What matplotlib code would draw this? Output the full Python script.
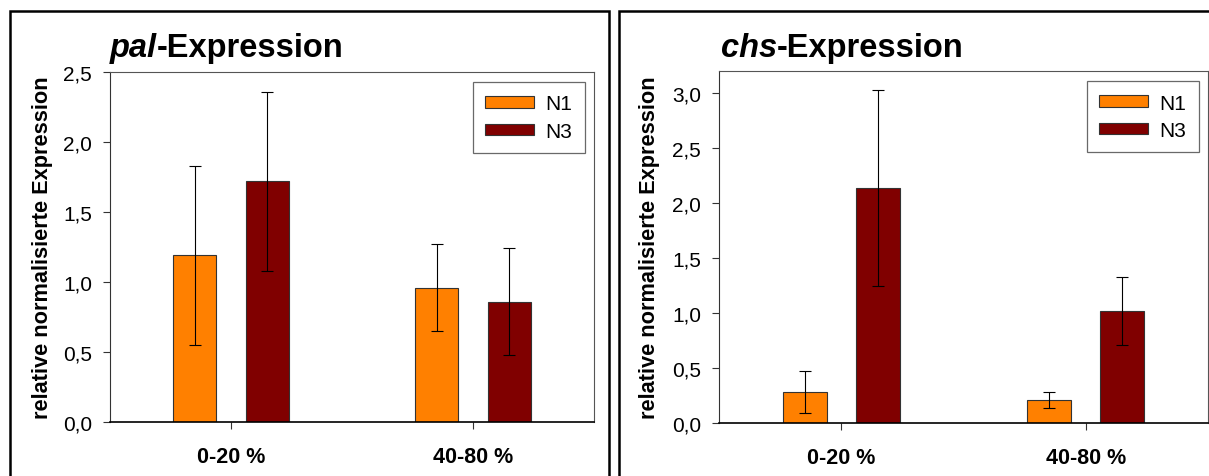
import matplotlib
matplotlib.use('Agg')
import matplotlib.pyplot as plt
import numpy as np
from matplotlib.patches import Rectangle
from matplotlib.ticker import FuncFormatter, MultipleLocator

plt.rcParams['font.family'] = ['Liberation Sans', 'DejaVu Sans']

# data
categories = ['0-20 %', '40-80 %']
series = ['N1', 'N3']
pal_n1 = [1.19, 0.96]
pal_n1_err = [0.64, 0.31]
pal_n3 = [1.72, 0.86]
pal_n3_err = [0.64, 0.38]
chs_n1 = [0.28, 0.21]
chs_n1_err = [0.19, 0.075]
chs_n3 = [2.14, 1.02]
chs_n3_err = [0.89, 0.31]

colors = ['#FF8000', '#800000']
W, H = 1209, 477


def fx(px):
    return px / W


def fy(py):
    return (H - py) / H


def comma(v, pos):
    return f'{v:.1f}'.replace('.', ',')


def panel(ax, gene, n1, n1_err, n3, n3_err, ymax, title_x, ylabel_x):
    x = np.arange(len(categories))
    off, bw = 0.15, 0.18
    for vals, errs, col, name, sgn in [(n1, n1_err, colors[0], series[0], -1),
                                       (n3, n3_err, colors[1], series[1], 1)]:
        ax.bar(x + sgn * off, vals, bw, color=col, edgecolor='#333333',
               linewidth=0.8, label=name, zorder=2)
        ax.errorbar(x + sgn * off, vals, yerr=errs, fmt='none', ecolor='black',
                    elinewidth=0.8, capsize=4, capthick=0.8, zorder=3)

    ax.set_xlim(-0.5, 1.5)
    ax.set_ylim(0, ymax)
    ax.yaxis.set_major_locator(MultipleLocator(0.5))
    ax.yaxis.set_major_formatter(FuncFormatter(comma))
    ax.set_xticks(x)
    ax.set_xticklabels(categories, fontweight='bold', fontsize=15.5)
    ax.tick_params(axis='y', direction='out', length=5, width=0.8, pad=8,
                   labelsize=15, color='#333333')
    ax.tick_params(axis='x', direction='out', length=5, width=0.8, pad=12,
                   color='#333333')
    for s in ['top', 'right']:
        ax.spines[s].set_color('#555555')
        ax.spines[s].set_linewidth(0.8)
    ax.spines['left'].set_color('#333333')
    ax.spines['left'].set_linewidth(0.8)
    ax.spines['bottom'].set_linewidth(1.2)

    bb = ax.get_position()
    leg = ax.legend(loc='upper right', bbox_to_anchor=(1 - 9 / (bb.width * W), 1 - 10 / (bb.height * H)),
                    borderaxespad=0, fontsize=15, frameon=True, fancybox=False,
                    handlelength=2.35, handleheight=0.48, handletextpad=0.55,
                    labelspacing=0.4, borderpad=0.6)
    leg.get_frame().set_edgecolor('#444444')
    leg.get_frame().set_linewidth(0.9)

    fig = ax.figure
    t1 = fig.text(fx(title_x), fy(57), gene, fontsize=23.5, fontweight='bold',
                  fontstyle='italic', ha='left', va='baseline')
    ax.annotate('-Expression', xy=(1, 0), xycoords=t1, fontsize=23.5,
                fontweight='bold', ha='left', va='bottom', annotation_clip=False)
    fig.text(fx(ylabel_x), (bb.y0 + bb.y1) / 2, 'relative normalisierte Expression',
             rotation=90, fontsize=15.7, fontweight='bold', ha='center', va='center')


fig = plt.figure(figsize=(W / 100, H / 100), dpi=100)

ax1 = fig.add_axes([fx(110), fy(423), fx(594 - 110), (423 - 73) / H])
ax2 = fig.add_axes([fx(719), fy(424), fx(1208 - 719), (424 - 72) / H])

panel(ax1, 'pal', pal_n1, pal_n1_err, pal_n3, pal_n3_err, 2.5, 110, 43)
panel(ax2, 'chs', chs_n1, chs_n1_err, chs_n3, chs_n3_err, 3.2, 721, 650)

# panel frames
fig.patches.append(Rectangle((fx(10), -0.1), fx(609 - 10), fy(12) + 0.1,
                             transform=fig.transFigure, fill=False,
                             edgecolor='black', linewidth=1.8))
fig.patches.append(Rectangle((fx(619), -0.1), fx(1230 - 619), fy(12) + 0.1,
                             transform=fig.transFigure, fill=False,
                             edgecolor='black', linewidth=1.8))

fig.savefig('out.png', dpi=100)
